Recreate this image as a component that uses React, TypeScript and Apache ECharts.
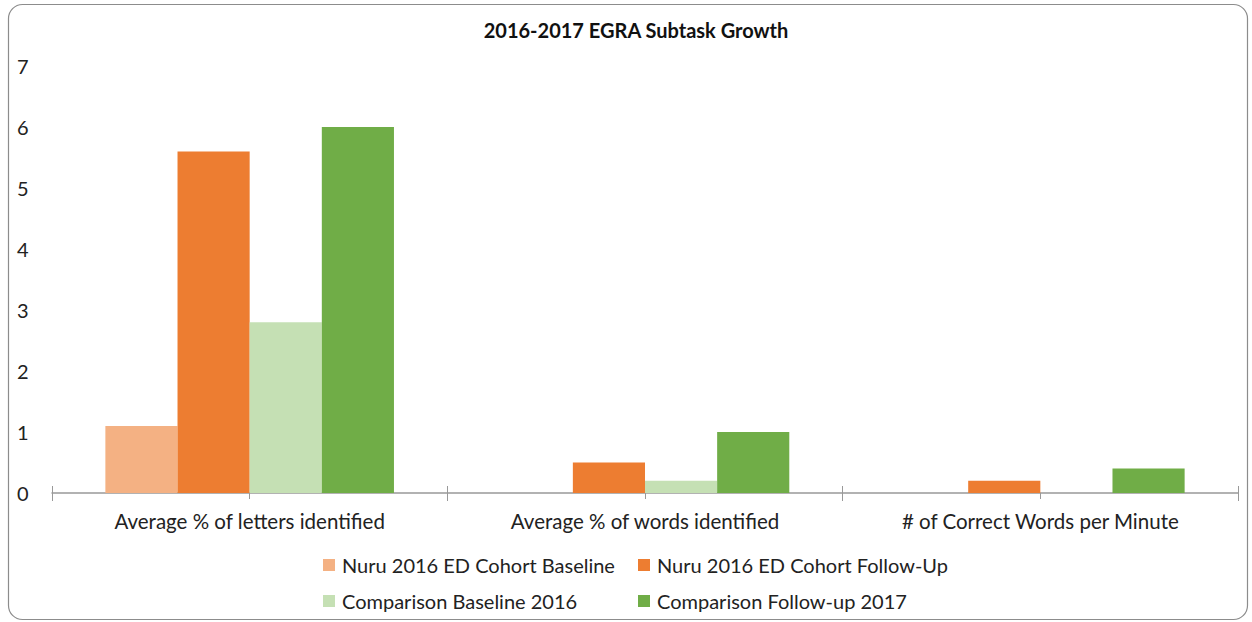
import React, { useEffect, useRef } from "react";
import * as echarts from "echarts";

const categories = [
  "Average % of letters identified",
  "Average % of words identified",
  "# of Correct Words per Minute",
];
const seriesNames = [
  "Nuru 2016 ED Cohort Baseline",
  "Nuru 2016 ED Cohort Follow-Up",
  "Comparison Baseline 2016",
  "Comparison Follow-up 2017",
];
const nuruBaseline = [1.1, 0, 0];
const nuruFollowUp = [5.6, 0.5, 0.2];
const compBaseline = [2.8, 0.2, 0];
const compFollowUp = [6.0, 1.0, 0.4];
const colors = ["#F4B183", "#ED7D31", "#C5E0B4", "#70AD47"];

const FONT = "Lato";

export default function App() {
  const ref = useRef<HTMLDivElement>(null);
  useEffect(() => {
    const chart = echarts.init(ref.current!, null, { renderer: "svg" });
    const values = [nuruBaseline, nuruFollowUp, compBaseline, compFollowUp];
    const legendPos = [
      { left: 318, top: 550 },
      { left: 633, top: 550 },
      { left: 318, top: 586 },
      { left: 633, top: 586 },
    ];
    chart.setOption({
      animation: false,
      backgroundColor: "#ffffff",
      title: {
        text: "2016-2017 EGRA Subtask Growth",
        left: 631,
        textAlign: "center",
        top: 15,
        textStyle: { fontFamily: FONT, fontWeight: "bold", fontSize: 20, color: "#111" },
      },
      legend: seriesNames.map((n, i) => ({
        data: [n],
        left: legendPos[i].left,
        top: legendPos[i].top,
        itemWidth: 12,
        itemHeight: 12,
        itemGap: 0,
        icon: "rect",
        textStyle: { fontFamily: FONT, fontSize: 20, color: "#222", padding: [0, 0, 0, 2] },
      })),
      grid: { left: 52, right: 14, top: 66, bottom: 129 },
      xAxis: [
        {
          type: "category",
          data: categories,
          axisLine: { lineStyle: { color: "#999", width: 1.5 } },
          axisTick: { show: true, length: 8, lineStyle: { color: "#999" } },
          axisLabel: { fontFamily: FONT, fontSize: 20.5, color: "#222", margin: 17 },
        },
        {
          type: "category",
          data: categories,
          position: "bottom",
          axisLine: { show: false },
          axisTick: { show: true, inside: true, length: 7, lineStyle: { color: "#999" } },
          axisLabel: { show: false },
        },
        {
          type: "category",
          data: categories,
          position: "bottom",
          axisLine: { show: false },
          axisTick: { show: true, alignWithLabel: true, length: 6, lineStyle: { color: "#999" } },
          axisLabel: { show: false },
        },
      ],
      yAxis: {
        type: "value",
        min: 0,
        max: 7,
        interval: 1,
        splitLine: { show: false },
        axisLine: { show: false },
        axisTick: { show: false },
        axisLabel: { fontFamily: FONT, fontSize: 20, color: "#222", margin: 35, align: "left" },
      },
      series: seriesNames.map((n, i) => ({
        name: n,
        type: "bar",
        data: values[i],
        barGap: "0%",
        barCategoryGap: "27%",
        itemStyle: { color: colors[i] },
      })),
      graphic: [
        {
          type: "rect",
          shape: { x: 8.5, y: 4.5, width: 1239, height: 615, r: 14 },
          style: { fill: "none", stroke: "#8c8c8c", lineWidth: 1.2 },
          silent: true,
        },
      ],
    });
    return () => chart.dispose();
  }, []);
  return (
    <div
      ref={ref}
      style={{ position: "absolute", left: 0, top: 0, width: 1252, height: 622 }}
    />
  );
}
